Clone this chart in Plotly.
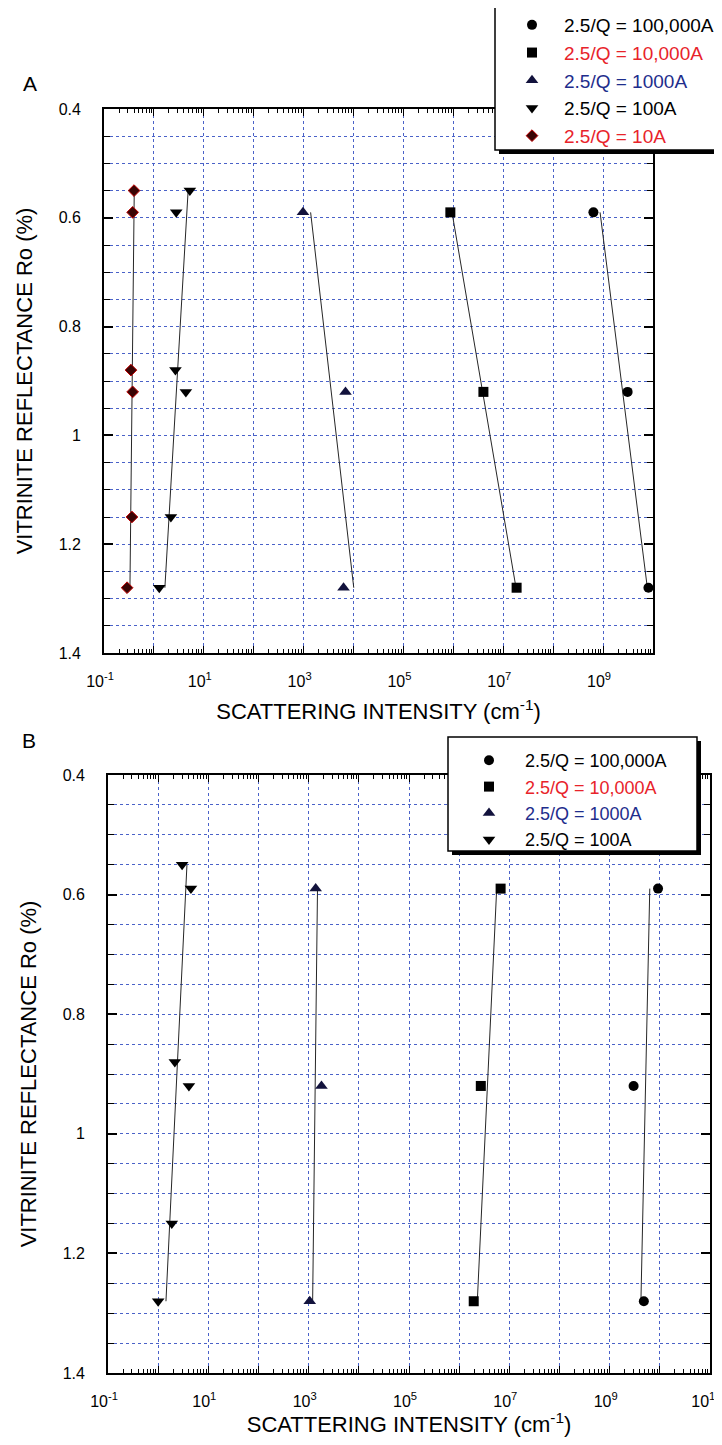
import plotly.graph_objects as go

OFF = 8  # page body margin of the html page
W, H = 722 - OFF, 1445 - 2 * OFF  # figure fits inside the window, no scrollbars
FONT = "Liberation Sans, Arial, sans-serif"
GRID = "#4a62c8"

# ---------------- Panel A data ----------------
A_ro_circle = [0.59, 0.92, 1.28]
A_si_circle = [6.4e8, 3.1e9, 8.1e9]
A_ro_square = [0.59, 0.92, 1.28]
A_si_square = [8.7e5, 4.0e6, 1.85e7]
A_ro_triup = [0.59, 0.92, 1.28]
A_si_triup = [970, 6900, 6300]
A_ro_tridn = [0.55, 0.59, 0.88, 0.92, 1.15, 1.28]
A_si_tridn = [5.25, 2.8, 2.7, 4.37, 2.19, 1.28]
A_ro_diam = [0.55, 0.59, 0.88, 0.92, 1.15, 1.28]
A_si_diam = [0.40, 0.375, 0.347, 0.375, 0.363, 0.29]

# fitted trend lines (end points)
A_fit_ro_circle = [0.59, 1.28]
A_fit_si_circle = [8.7e8, 7.7e9]
A_fit_ro_square = [0.59, 1.28]
A_fit_si_square = [9.4e5, 1.8e7]
A_fit_ro_triup = [0.59, 1.28]
A_fit_si_triup = [1380, 10100]
A_fit_ro_tridn = [0.55, 1.28]
A_fit_si_tridn = [4.85, 1.66]
A_fit_ro_diam = [0.55, 1.28]
A_fit_si_diam = [0.404, 0.331]

# ---------------- Panel B data ----------------
B_ro_circle = [0.59, 0.92, 1.28]
B_si_circle = [9.2e9, 3.0e9, 4.8e9]
B_ro_square = [0.59, 0.92, 1.28]
B_si_square = [6.7e6, 2.7e6, 1.95e6]
B_ro_triup = [0.59, 0.92, 1.28]
B_si_triup = [1380, 1800, 1050]
B_ro_tridn = [0.55, 0.59, 0.88, 0.92, 1.15, 1.28]
B_si_tridn = [3.0, 4.5, 2.15, 4.1, 1.87, 1.0]

B_fit_ro_circle = [0.59, 1.28]
B_fit_si_circle = [6.3e9, 4.2e9]
B_fit_ro_square = [0.59, 1.28]
B_fit_si_square = [5.6e6, 2.3e6]
B_fit_ro_triup = [0.59, 1.28]
B_fit_si_triup = [1500, 1200]
B_fit_ro_tridn = [0.55, 1.28]
B_fit_si_tridn = [3.75, 1.43]

# ---------------- labels ----------------
NAMES = [
    "2.5/Q = 100,000A",
    "<span style='color:#e8232a'>2.5/Q = 10,000A</span>",
    "<span style='color:#1e2d8c'>2.5/Q = 1000A</span>",
    "2.5/Q = 100A",
    "<span style='color:#e8232a'>2.5/Q = 10A</span>",
]
A_x_tickvals = [1e-1, 1e0, 1e1, 1e2, 1e3, 1e4, 1e5, 1e6, 1e7, 1e8, 1e9, 1e10]
A_x_ticktext = ["10<sup>-1</sup>", "", "10<sup>1</sup>", "", "10<sup>3</sup>", "",
                "10<sup>5</sup>", "", "10<sup>7</sup>", "", "10<sup>9</sup>", ""]
B_x_tickvals = [1e-1, 1e0, 1e1, 1e2, 1e3, 1e4, 1e5, 1e6, 1e7, 1e8, 1e9, 1e10, 1e11]
B_x_ticktext = ["10<sup>-1</sup>", "", "10<sup>1</sup>", "", "10<sup>3</sup>", "",
                "10<sup>5</sup>", "", "10<sup>7</sup>", "", "10<sup>9</sup>", "",
                "10<sup>11</sup>"]
y_tickvals = [0.4, 0.6, 0.8, 1.0, 1.2, 1.4]
y_ticktext = ["0.4", "0.6", "0.8", "1", "1.2", "1.4"]
X_TITLE = "SCATTERING INTENSITY (cm<sup>-1</sup>)"
Y_TITLE = "VITRINITE REFLECTANCE Ro (%)"

STYLES = {
    "circle": dict(symbol="circle", size=10, color="black"),
    "square": dict(symbol="square", size=10, color="black"),
    "triup": dict(symbol="triangle-up", size=11, color="#12123c"),
    "tridn": dict(symbol="triangle-down", size=11, color="black"),
    "diam": dict(symbol="diamond", size=9, color="#3a0505",
                 line=dict(color="#c00000", width=1)),
}

fig = go.Figure()


def add_panel(series, xa, ya, legend):
    for key, name, xs, ys, fx, fy in series:
        fig.add_trace(go.Scatter(
            x=fx, y=fy, mode="lines", line=dict(color="#262626", width=1),
            xaxis=xa, yaxis=ya, showlegend=False, hoverinfo="skip"))
    for key, name, xs, ys, fx, fy in series:
        fig.add_trace(go.Scatter(
            x=xs, y=ys, mode="markers", marker=STYLES[key], name=name,
            xaxis=xa, yaxis=ya, legend=legend))


add_panel([
    ("circle", NAMES[0], A_si_circle, A_ro_circle, A_fit_si_circle, A_fit_ro_circle),
    ("square", NAMES[1], A_si_square, A_ro_square, A_fit_si_square, A_fit_ro_square),
    ("triup", NAMES[2], A_si_triup, A_ro_triup, A_fit_si_triup, A_fit_ro_triup),
    ("tridn", NAMES[3], A_si_tridn, A_ro_tridn, A_fit_si_tridn, A_fit_ro_tridn),
    ("diam", NAMES[4], A_si_diam, A_ro_diam, A_fit_si_diam, A_fit_ro_diam),
], "x", "y", "legend")

add_panel([
    ("circle", NAMES[0], B_si_circle, B_ro_circle, B_fit_si_circle, B_fit_ro_circle),
    ("square", NAMES[1], B_si_square, B_ro_square, B_fit_si_square, B_fit_ro_square),
    ("triup", NAMES[2], B_si_triup, B_ro_triup, B_fit_si_triup, B_fit_ro_triup),
    ("tridn", NAMES[3], B_si_tridn, B_ro_tridn, B_fit_si_tridn, B_fit_ro_tridn),
], "x2", "y2", "legend2")


def px_x(v):
    return (v - OFF) / W


def px_y(v):
    return 1 - (v - OFF) / H


def xaxis(domain_px, rng, tickvals, ticktext, anchor):
    return dict(
        type="log", range=rng, domain=[px_x(domain_px[0]), px_x(domain_px[1])],
        anchor=anchor, tickmode="array", tickvals=tickvals, ticktext=ticktext,
        ticks="inside", ticklen=7, tickwidth=1.3, tickcolor="black",
        showline=True, linecolor="black", linewidth=1.7, mirror="allticks",
        showgrid=True, gridcolor=GRID, griddash="dot", gridwidth=1,
        minor=dict(ticks="inside", ticklen=4, tickwidth=1, tickcolor="black",
                   dtick="D1", showgrid=False),
        tickfont=dict(size=16, color="black", family=FONT), ticklabelstandoff=13,
        ticklabelshift=-4, ticklabeloverflow="allow",
        title=dict(text=X_TITLE, font=dict(size=22, color="black", family=FONT),
                   standoff=15),
        zeroline=False, automargin=False,
    )


def yaxis(domain_px, anchor):
    return dict(
        range=[1.4, 0.4], domain=[px_y(domain_px[1]), px_y(domain_px[0])],
        anchor=anchor, tickmode="array", tickvals=y_tickvals, ticktext=y_ticktext,
        ticks="inside", ticklen=9, tickwidth=1.5, tickcolor="black",
        showline=True, linecolor="black", linewidth=1.7, mirror="allticks",
        showgrid=True, gridcolor=GRID, griddash="dot", gridwidth=1,
        minor=dict(ticks="inside", ticklen=6, tickwidth=1.2, tickcolor="black",
                   tickmode="linear", tick0=0.4, dtick=0.05, showgrid=True,
                   gridcolor=GRID, griddash="dot", gridwidth=1),
        tickfont=dict(size=16, color="black", family=FONT), ticklabelstandoff=18,
        title=dict(text=Y_TITLE, font=dict(size=22, color="black", family=FONT),
                   standoff=20),
        zeroline=False, automargin=False,
    )


shapes = []
for box in [(495, 4, 716, 150), (448, 737, 697, 851)]:
    x0, y0, x1, y1 = box
    shapes.append(dict(type="rect", xref="paper", yref="paper", layer="above",
                       x0=px_x(x0 + 4), x1=px_x(x1 + 4), y0=px_y(y1 + 4), y1=px_y(y0 + 4),
                       fillcolor="black", line=dict(width=0)))
    shapes.append(dict(type="rect", xref="paper", yref="paper", layer="above",
                       x0=px_x(x0), x1=px_x(x1), y0=px_y(y1), y1=px_y(y0),
                       fillcolor="white", line=dict(color="black", width=1.5)))

fig.update_layout(
    width=W, height=H, margin=dict(l=0, r=0, t=0, b=0, pad=0, autoexpand=False),
    paper_bgcolor="white", plot_bgcolor="white",
    font=dict(family=FONT, color="black"),
    xaxis=xaxis((104, 653), [-1, 10], A_x_tickvals, A_x_ticktext, "y"),
    yaxis=yaxis((109, 653), "x"),
    xaxis2=xaxis((108, 710), [-1, 11], B_x_tickvals, B_x_ticktext, "y2"),
    yaxis2=yaxis((775, 1373), "x2"),
    legend=dict(x=px_x(500), y=px_y(6), xanchor="left", yanchor="top",
                bgcolor="rgba(0,0,0,0)", borderwidth=0, itemwidth=54,
                font=dict(size=19, family=FONT, color="black"), tracegroupgap=0),
    legend2=dict(x=px_x(453), y=px_y(742), xanchor="left", yanchor="top",
                 bgcolor="rgba(0,0,0,0)", borderwidth=0, itemwidth=62,
                 font=dict(size=18, family=FONT, color="black"), tracegroupgap=0),
    shapes=shapes,
    annotations=[
        dict(text="A", x=px_x(21), y=px_y(70), xref="paper", yref="paper",
             showarrow=False, font=dict(size=21, family=FONT, color="black")),
        dict(text="B", x=px_x(20), y=px_y(740), xref="paper", yref="paper",
             showarrow=False, font=dict(size=21, family=FONT, color="black")),
    ],
)

fig.write_html("out.html")
